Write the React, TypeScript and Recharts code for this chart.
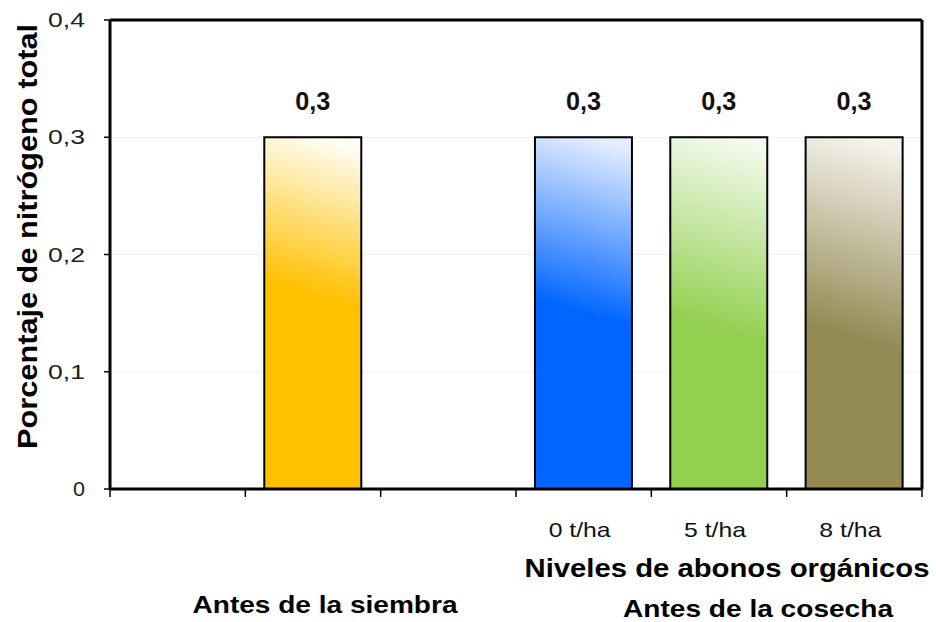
import { BarChart, Bar, XAxis, YAxis, CartesianGrid, Cell, LabelList } from 'recharts';

// Six slots on the category axis; empty slots keep the spacing between groups
const slots = ['s0', 's1', 's2', 's3', 's4', 's5'];
const tickLabels = ['', '', '', '0 t/ha', '5 t/ha', '8 t/ha'];
const nitrogen = [null, 0.3, null, 0.3, 0.3, 0.3];
const yTicks = [0, 0.1, 0.2, 0.3, 0.4];

// Bottom labels that sit under a slot
const groupLabels = [
  { slot: 1, text: 'Antes de la siembra' },
  { slot: 4, text: 'Niveles de abonos orgánicos' },
  { slot: 4, text: 'Antes de la cosecha' },
];

const barColors = ['#ffffff', '#FFC000', '#ffffff', '#0066FF', '#92D050', '#948A54'];
const barTops = ['#ffffff', '#FFFDF4', '#ffffff', '#E4EDFF', '#F3FAEC', '#F5F3EC'];
const solidAt = [0.5, 0.45, 0.5, 0.5, 0.55, 0.57];

const data = slots.map((slot, i) => ({
  slot,
  label: tickLabels[i],
  value: nitrogen[i],
}));

const comma = (v: number) => String(v).replace('.', ',');

const groupStyle = [
  { dx: 12, dy: 124, size: 24, len: 265 },
  { dx: 8, dy: 88, size: 25, len: 405 },
  { dx: 39, dy: 128, size: 24, len: 270 },
];

function CategoryTick(props: any) {
  const { x, y, payload, index } = props;
  const half = payload?.offset ?? 67.7;
  const last = index === slots.length - 1;
  const label = tickLabels[index];
  return (
    <g>
      <line x1={x - half} x2={x - half} y1={y} y2={y + 8} stroke="#000" strokeWidth={1.5} />
      {last && <line x1={x + half} x2={x + half} y1={y} y2={y + 8} stroke="#000" strokeWidth={1.5} />}
      {label && (
        <text
          x={x - 4}
          y={y + 48}
          textAnchor="middle"
          fontFamily="Arial, 'Liberation Sans', sans-serif"
          fontSize={21}
          fill="#111"
          textLength={62}
          lengthAdjust="spacingAndGlyphs"
        >
          {label}
        </text>
      )}
      {groupLabels.map((g, gi) =>
        g.slot === index ? (
          <text
            key={gi}
            x={x + groupStyle[gi].dx}
            y={y + groupStyle[gi].dy}
            textAnchor="middle"
            fontFamily="Arial, 'Liberation Sans', sans-serif"
            fontWeight="bold"
            fontSize={groupStyle[gi].size}
            fill="#000"
            textLength={groupStyle[gi].len}
            lengthAdjust="spacingAndGlyphs"
          >
            {g.text}
          </text>
        ) : null
      )}
    </g>
  );
}

function ValueTick(props: any) {
  const { x, y, payload } = props;
  return (
    <text
      x={x}
      y={y + 7}
      textAnchor="end"
      fontFamily="Arial, 'Liberation Sans', sans-serif"
      fontSize={21}
      fill="#222"
      textLength={payload.value === 0 ? 12 : 37}
      lengthAdjust="spacingAndGlyphs"
    >
      {comma(payload.value)}
    </text>
  );
}

function BarValue(props: any) {
  const { x, y, width, value } = props;
  if (value == null) return null;
  return (
    <text
      x={x + width / 2}
      y={y - 27}
      textAnchor="middle"
      fontFamily="'Liberation Sans Narrow', 'Arial Narrow', Arial, sans-serif"
      fontWeight="bold"
      fontSize={25}
      fill="#111"
      textLength={35}
      lengthAdjust="spacingAndGlyphs"
    >
      {comma(value)}
    </text>
  );
}

function YTitle(props: any) {
  const { viewBox } = props;
  const cx = viewBox.x + 22;
  const cy = viewBox.y + viewBox.height / 2 - 18;
  return (
    <text
      x={cx}
      y={cy}
      transform={`rotate(-90 ${cx} ${cy})`}
      textAnchor="middle"
      dominantBaseline="central"
      fontFamily="Arial, 'Liberation Sans', sans-serif"
      fontWeight="bold"
      fontSize={28}
      fill="#000"
      textLength={425}
      lengthAdjust="spacingAndGlyphs"
    >
      Porcentaje de nitrógeno total
    </text>
  );
}

export default function App() {
  return (
    <div style={{ position: 'absolute', left: 0, top: 0, background: '#fff' }}>
      <BarChart
        width={936}
        height={622}
        data={data}
        margin={{ top: 20, right: 14, bottom: 10, left: 5 }}
        barCategoryGap="14%"
      >
        <defs>
          {barColors.map((c, i) => (
            <linearGradient key={i} id={`nfill-${i}`} x1="0.54" y1="0" x2="0.46" y2="1">
              <stop offset="0" stopColor={barTops[i]} />
              <stop offset={solidAt[i]} stopColor={c} />
              <stop offset="1" stopColor={c} />
            </linearGradient>
          ))}
        </defs>
        <CartesianGrid vertical={false} stroke="#efefef" />
        {/* heavy frame: top and right edges of the plot area */}
        <CartesianGrid
          vertical={false}
          horizontalCoordinatesGenerator={({ offset }: any) => [offset.top]}
          stroke="#000"
          strokeWidth={3}
        />
        <CartesianGrid
          horizontal={false}
          verticalCoordinatesGenerator={({ offset }: any) => [offset.left + offset.width]}
          stroke="#000"
          strokeWidth={3}
        />
        <XAxis
          dataKey="slot"
          height={123}
          axisLine={{ stroke: '#000', strokeWidth: 3 }}
          tickLine={false}
          tickSize={0}
          tickMargin={0}
          interval={0}
          tick={<CategoryTick />}
        />
        <YAxis
          width={105}
          domain={[0, 0.4]}
          ticks={yTicks}
          interval={0}
          axisLine={{ stroke: '#000', strokeWidth: 3 }}
          tickLine={{ stroke: '#000', strokeWidth: 1.5 }}
          tickSize={6}
          tickMargin={19}
          tick={<ValueTick />}
          label={<YTitle />}
        />
        <Bar dataKey="value" stroke="#000" strokeWidth={2} isAnimationActive={false}>
          {data.map((_, i) => (
            <Cell key={`cell-${i}`} fill={`url(#nfill-${i})`} />
          ))}
          <LabelList dataKey="value" content={<BarValue />} />
        </Bar>
      </BarChart>
    </div>
  );
}
